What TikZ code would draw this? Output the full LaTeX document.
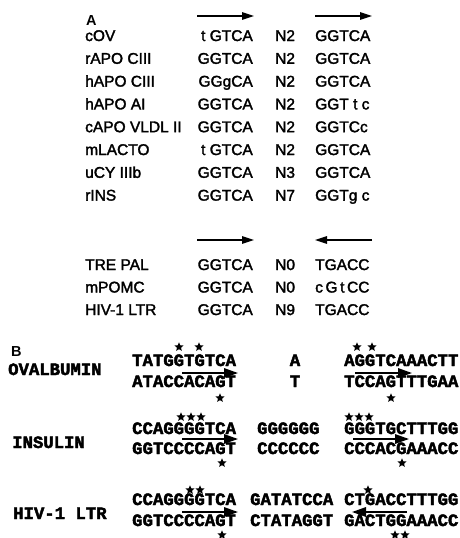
\documentclass[tikz,border=0pt]{standalone}
\usepackage{fontspec}
\setmainfont{Liberation Sans}
\newfontfamily\rowfont[RawFeature={embolden=2}]{Liberation Sans}
\newfontfamily\seqfont[RawFeature={embolden=2.5}]{Liberation Mono Bold}
\usetikzlibrary{arrows.meta,shapes.geometric}
\begin{document}
\begin{tikzpicture}[x=1pt,y=-1pt,
  txt/.style={inner sep=0pt,font=\fontsize{15.5}{18}\rowfont},
  panel/.style={inner sep=0pt,font=\fontsize{14.5}{16}\bfseries\selectfont},
  seq/.style={inner sep=0pt,font=\fontsize{17.3}{20}\seqfont},
  starmark/.style={star,star points=5,star point ratio=2.2,fill=black,draw=none,minimum size=9.5pt,inner sep=0pt},
  arrA/.style={line width=1.4pt,-{Triangle[length=12pt,width=7.5pt]}},
  arrB/.style={line width=1.6pt,-{Triangle[length=14pt,width=9.5pt]}}]
\useasboundingbox (0,0) rectangle (460,538);

% ---------- panel A ----------
\node[panel,anchor=base west] (labA) at (86,25) {A};

% direct repeats
\coordinate (r1s) at (197,16); \coordinate (r1e) at (254,16);
\coordinate (r2s) at (315,16); \coordinate (r2e) at (372,16);
\draw[arrA] (r1s) -- (r1e);
\draw[arrA] (r2s) -- (r2e);

\foreach \nm/\sa/\gp/\sb/\yy [count=\i] in {
  cOV/t GTCA/N2/GGTCA/41,
  rAPO CIII/GGTCA/N2/GGTCA/63.8,
  hAPO CIII/GGgCA/N2/GGTCA/86.6,
  hAPO AI/GGTCA/N2/GGT t c/109.4,
  cAPO VLDL II/GGTCA/N2/GGTCc/132.2,
  mLACTO/t GTCA/N2/GGTCA/155,
  uCY IIIb/GGTCA/N3/GGTCA/177.8,
  rINS/GGTCA/N7/GGTg c/200.6,
  TRE PAL/GGTCA/N0/TGACC/270,
  mPOMC/GGTCA/N0/c\,G\,t\,CC/292.5,
  HIV-1 LTR/GGTCA/N9/TGACC/315}{
  \node[txt,anchor=base west] (nm\i) at (85,\yy) {\nm};
  \node[txt,anchor=base east] (sa\i) at (253,\yy) {\sa};
  \node[txt,anchor=base west] (gp\i) at (275,\yy) {\gp};
  \node[txt,anchor=base west] (sb\i) at (315,\yy) {\sb};
}

% palindrome arrows
\coordinate (p1s) at (197,240); \coordinate (p1e) at (254,240);
\coordinate (p2s) at (372,240); \coordinate (p2e) at (315,240);
\draw[arrA] (p1s) -- (p1e);
\draw[arrA] (p2s) -- (p2e);

% ---------- panel B ----------
\node[panel,anchor=base west] (labB) at (11,356) {B};

% ovalbumin
\node[seq,anchor=base west] (ovN) at (8,375) {OVALBUMIN};
\node[seq,anchor=base west] (ovT1) at (132,366) {TATGGTGTCA};
\node[seq,anchor=base west] (ovB1) at (132,387) {ATACCACAGT};
\node[seq,anchor=base] (ovT2) at (295,366) {A};
\node[seq,anchor=base] (ovB2) at (295,387) {T};
\node[seq,anchor=base west] (ovT3) at (344,366) {AGGTCAAACTT};
\node[seq,anchor=base west] (ovB3) at (344,387) {TCCAGTTTGAA};
\node[starmark] (ovs1) at (179,347) {};
\node[starmark] (ovs2) at (199,347) {};
\node[starmark] (ovs3) at (357,347) {};
\node[starmark] (ovs4) at (372,347) {};
\node[starmark] (ovs5) at (220,398) {};
\node[starmark] (ovs6) at (391,398) {};
\coordinate (ova1) at (182,373); \coordinate (ova2) at (238,373);
\coordinate (ova3) at (355,373); \coordinate (ova4) at (412,373);
\draw[arrB] (ova1) -- (ova2);
\draw[arrB] (ova3) -- (ova4);

% insulin
\node[seq,anchor=base west] (inN) at (12,448) {INSULIN};
\node[seq,anchor=base west] (inT1) at (132,434) {CCAGGGGTCA};
\node[seq,anchor=base west] (inB1) at (132,454) {GGTCCCCAGT};
\node[seq,anchor=base west] (inT2) at (257,434) {GGGGGG};
\node[seq,anchor=base west] (inB2) at (257,454) {CCCCCC};
\node[seq,anchor=base west] (inT3) at (344,434) {GGGTGCTTTGG};
\node[seq,anchor=base west] (inB3) at (344,454) {CCCACGAAACC};
\node[starmark] (ins1) at (181,417) {};
\node[starmark] (ins2) at (191,417) {};
\node[starmark] (ins3) at (201,417) {};
\node[starmark] (ins4) at (349,417) {};
\node[starmark] (ins5) at (359,417) {};
\node[starmark] (ins6) at (369,417) {};
\node[starmark] (ins7) at (222,463) {};
\node[starmark] (ins8) at (402,463) {};
\coordinate (ina1) at (182,439); \coordinate (ina2) at (238,439);
\coordinate (ina3) at (353,439); \coordinate (ina4) at (409,439);
\draw[arrB] (ina1) -- (ina2);
\draw[arrB] (ina3) -- (ina4);

% HIV-1 LTR
\node[seq,anchor=base west] (hvN) at (13,519) {HIV-1 LTR};
\node[seq,anchor=base west] (hvT1) at (132,505) {CCAGGGGTCA};
\node[seq,anchor=base west] (hvB1) at (132,526) {GGTCCCCAGT};
\node[seq,anchor=base west] (hvT2) at (250,505) {GATATCCA};
\node[seq,anchor=base west] (hvB2) at (250,526) {CTATAGGT};
\node[seq,anchor=base west] (hvT3) at (344,505) {CTGACCTTTGG};
\node[seq,anchor=base west] (hvB3) at (344,526) {GACTGGAAACC};
\node[starmark] (hvs1) at (190,490) {};
\node[starmark] (hvs2) at (200,490) {};
\node[starmark] (hvs3) at (368,490) {};
\node[starmark] (hvs4) at (222,535) {};
\node[starmark] (hvs5) at (395,535) {};
\node[starmark] (hvs6) at (405,535) {};
\coordinate (hva1) at (182,512); \coordinate (hva2) at (238,512);
\coordinate (hva3) at (407,512); \coordinate (hva4) at (352,512);
\draw[arrB] (hva1) -- (hva2);
\draw[arrB] (hva3) -- (hva4);
\end{tikzpicture}
\end{document}
